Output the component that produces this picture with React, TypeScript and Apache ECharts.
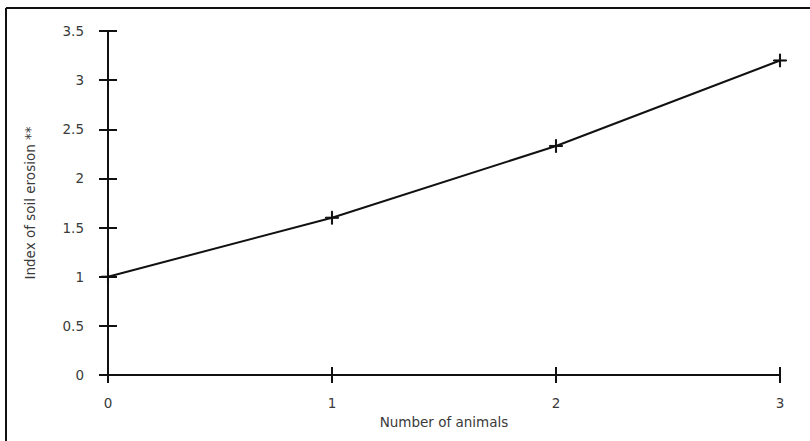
import React, { useEffect, useRef } from "react";
import * as echarts from "echarts";

const animals = [0, 1, 2, 3];
const erosionIndex = [1.0, 1.6, 2.33, 3.2];
const xTitle = "Number of animals";
const yTitle = "Index of soil erosion **";

const FONT = "'DejaVu Sans', 'Liberation Sans', Arial, sans-serif";
const INK = "#111";
const TXT = "#3a3a3a";
const FS = 13.5;

export default function App() {
  const ref = useRef<HTMLDivElement>(null);
  useEffect(() => {
    const chart = echarts.init(ref.current!, null, { renderer: "svg" });
    const data = animals.map((a, i) => [a, erosionIndex[i]]);
    const baseX = {
      type: "value",
      min: 0,
      max: 3,
      interval: 1,
      splitLine: { show: false },
    };
    const baseY = {
      type: "value",
      min: 0,
      max: 3.5,
      interval: 0.5,
      splitLine: { show: false },
    };
    chart.setOption({
      animation: false,
      backgroundColor: "#fff",
      textStyle: { fontFamily: FONT },
      grid: { left: 108, right: 30, top: 31, bottom: 66, containLabel: false },
      xAxis: [
        {
          ...baseX,
          position: "bottom",
          axisLine: { show: true, onZero: false, lineStyle: { color: INK, width: 2 } },
          axisTick: { show: true, length: 8, lineStyle: { color: INK, width: 2 } },
          axisLabel: { color: TXT, fontSize: FS, margin: 21, fontFamily: FONT },
          name: xTitle,
          nameLocation: "middle",
          nameGap: 39,
          nameTextStyle: { color: TXT, fontSize: FS, fontFamily: FONT },
        },
        {
          ...baseX,
          position: "bottom",
          axisLine: { show: false, onZero: false },
          axisTick: { show: true, inside: true, length: 8, lineStyle: { color: INK, width: 2 } },
          axisLabel: { show: false },
        },
      ],
      yAxis: [
        {
          ...baseY,
          position: "left",
          axisLine: { show: true, onZero: false, lineStyle: { color: INK, width: 2 } },
          axisTick: { show: true, length: 9, lineStyle: { color: INK, width: 2 } },
          axisLabel: { color: TXT, fontSize: FS, margin: 24, fontFamily: FONT },
          name: yTitle,
          nameLocation: "middle",
          nameGap: 71,
          nameTextStyle: { color: TXT, fontSize: FS, fontFamily: FONT },
        },
        {
          ...baseY,
          position: "left",
          axisLine: { show: false, onZero: false },
          axisTick: { show: true, inside: true, length: 9, lineStyle: { color: INK, width: 2 } },
          axisLabel: { show: false },
        },
      ],
      graphic: [
        { type: "line", shape: { x1: 6, y1: 8, x2: 6, y2: 441 }, style: { stroke: INK, lineWidth: 2 } },
        { type: "line", shape: { x1: 6, y1: 8, x2: 810, y2: 8 }, style: { stroke: INK, lineWidth: 2 } },
      ],
      series: [
        {
          type: "line",
          data,
          xAxisIndex: 0,
          yAxisIndex: 0,
          lineStyle: { color: INK, width: 2 },
          symbol: "path://M-0.5,-6 L0.5,-6 L0.5,-0.5 L6,-0.5 L6,0.5 L0.5,0.5 L0.5,6 L-0.5,6 L-0.5,0.5 L-6,0.5 L-6,-0.5 L-0.5,-0.5 Z",
          symbolSize: 13,
          showSymbol: true,
          itemStyle: { color: INK, borderColor: INK, borderWidth: 1 },
          z: 5,
        },
      ],
    });
    return () => chart.dispose();
  }, []);
  return <div ref={ref} style={{ width: 810, height: 441, position: "absolute", left: 0, top: 0 }} />;
}
